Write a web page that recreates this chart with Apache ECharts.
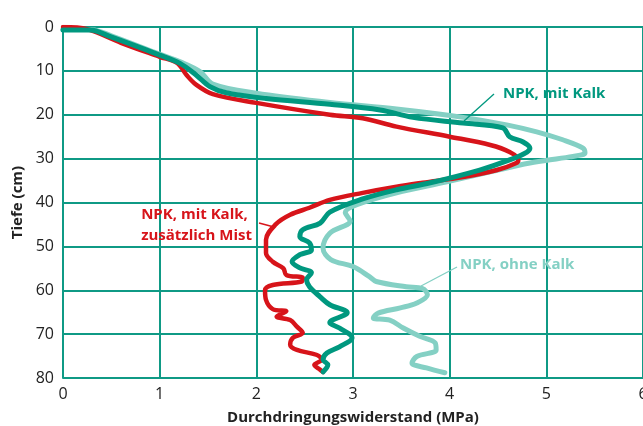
<!DOCTYPE html>
<html>
<head>
<meta charset="utf-8">
<script src="https://cdn.jsdelivr.net/npm/echarts@6/dist/echarts.min.js"></script>
<style>
html,body{margin:0;padding:0;background:#fff;}
#chart{width:643px;height:426px;}
</style>
</head>
<body>
<div id="chart"></div>
<script>
// x ticks (MPa) and depth ticks (cm)
const xTicks = [0, 1, 2, 3, 4, 5, 6];
const depthTicks = [0, 10, 20, 30, 40, 50, 60, 70, 80];

// [Durchdringungswiderstand (MPa), Tiefe (cm)]
const npkOhneKalk = [
  [0,0.5],[0.3,0.6],[0.5,2],[1.0,6.2],[1.22,8],[1.42,10.2],[1.55,13],[2.0,15.1],[2.76,17.2],
  [3.45,18.7],[4.14,20.6],[4.59,22.3],[4.9,23.9],[5.17,25.7],[5.38,27.6],[5.4,28.7],[5.24,29.6],
  [4.83,31],[4.42,33],[3.97,35.3],[3.45,37.8],[3.04,40.5],[2.92,42.3],[2.97,44.2],[2.76,47],
  [2.69,50.4],[2.77,53],[3.0,54.6],[3.17,56.9],[3.24,58],[3.55,59.2],[3.72,59.6],[3.77,61],
  [3.66,62.9],[3.49,64],[3.26,65.2],[3.21,66.3],[3.38,66.8],[3.52,68.6],[3.69,70.5],[3.85,72],
  [3.86,73.6],[3.66,75.1],[3.61,76.6],[3.76,77.7],[3.95,78.8]
];
const npkMitKalk = [
  [0,0.7],[0.28,0.7],[0.49,2.2],[1.0,6.4],[1.21,8.3],[1.38,11],[1.52,13.6],[1.69,15],[2.1,16.3],
  [2.76,17.6],[3.28,18.9],[3.62,20.6],[4.14,21.9],[4.55,23],[4.62,25],[4.76,26.2],[4.83,27.6],
  [4.8,28.5],[4.62,30.3],[4.31,32.6],[3.8,35.5],[3.45,37.1],[3.1,39.2],[2.76,42.2],[2.66,44.7],
  [2.48,46.2],[2.45,47.8],[2.55,49.2],[2.57,50.8],[2.45,51.9],[2.37,53.5],[2.45,54.9],[2.57,56],
  [2.52,57.6],[2.55,59.2],[2.66,61.5],[2.76,63.3],[2.94,65.1],[2.76,67.4],[2.86,68.6],[2.99,70.8],
  [2.86,72.9],[2.73,74.3],[2.69,75.8],[2.74,77],[2.69,78.6]
];
const npkMitKalkMist = [
  [0,0],[0.25,0.5],[0.6,3.6],[1.0,6.8],[1.18,8.2],[1.28,11],[1.38,13.2],[1.55,15.3],[2.0,17.3],
  [2.76,20],[3.1,20.8],[3.45,22.7],[4.0,25],[4.42,26.9],[4.62,28.5],[4.71,30.3],[4.69,31],
  [4.49,32.6],[4.14,34.2],[3.72,35.5],[3.45,36.4],[3.1,37.8],[2.76,39.4],[2.55,41.2],[2.35,42.8],
  [2.2,45],[2.1,48.5],[2.1,51.5],[2.17,53.5],[2.28,55],[2.31,56.5],[2.48,57.2],[2.47,58],
  [2.17,58.8],[2.09,60],[2.1,62.2],[2.17,64.3],[2.31,64.8],[2.21,66],[2.35,66.8],[2.42,68.3],
  [2.48,69.7],[2.38,70.8],[2.35,72.4],[2.42,73.6],[2.62,74.7],[2.68,75.8],[2.6,77],[2.66,78.1],[2.69,78.6]
];

const FONT = "'Open Sans', 'Noto Sans', sans-serif";
const GRID = '#0f9a85';
const chart = echarts.init(document.getElementById('chart'), null, {renderer: 'canvas'});

chart.setOption({
  animation: false,
  backgroundColor: '#ffffff',
  grid: {left: 63, top: 27, right: 0, bottom: 48, containLabel: false, outerBoundsMode: 'none'},
  xAxis: {
    type: 'value', min: xTicks[0], max: xTicks[xTicks.length - 1], interval: 1,
    name: 'Durchdringungswiderstand (MPa)', nameLocation: 'middle', nameGap: 32,
    nameTextStyle: {fontFamily: FONT, fontSize: 15, fontWeight: 'bold', color: '#222'},
    axisLine: {show: true, lineStyle: {color: GRID, width: 2}},
    axisTick: {show: false},
    axisLabel: {fontFamily: FONT, fontSize: 16, color: '#222', margin: 8, showMaxLabel: true},
    splitLine: {show: true, lineStyle: {color: GRID, width: 2}}
  },
  yAxis: {
    type: 'value', inverse: true, min: depthTicks[0], max: depthTicks[depthTicks.length - 1], interval: 10,
    name: 'Tiefe (cm)', nameLocation: 'middle', nameGap: 34,
    nameTextStyle: {fontFamily: FONT, fontSize: 15, fontWeight: 'bold', color: '#222'},
    axisLine: {show: true, lineStyle: {color: GRID, width: 2}},
    axisTick: {show: false},
    axisLabel: {fontFamily: FONT, fontSize: 16, color: '#222', margin: 9},
    splitLine: {show: true, lineStyle: {color: GRID, width: 2}}
  },
  series: [
    {name: 'NPK, ohne Kalk', type: 'line', data: npkOhneKalk, symbol: 'none', smooth: 0.35,
     lineStyle: {color: '#84d0c4', width: 5, cap: 'round', join: 'round'}, z: 2},
    {name: 'NPK, mit Kalk, zusätzlich Mist', type: 'line', data: npkMitKalkMist, symbol: 'none', smooth: 0.35,
     lineStyle: {color: '#d7141a', width: 4.5, cap: 'round', join: 'round'}, z: 3},
    {name: 'NPK, mit Kalk', type: 'line', data: npkMitKalk, symbol: 'none', smooth: 0.35,
     lineStyle: {color: '#00987f', width: 5, cap: 'round', join: 'round'}, z: 4}
  ],
  graphic: [
    {type: 'line', shape: {x1: 494, y1: 94, x2: 464, y2: 121}, style: {stroke: '#00987f', lineWidth: 1.3}, z: 10},
    {type: 'text', left: 503, top: 86, style: {text: 'NPK, mit Kalk', fill: '#00987f', font: "bold 15px " + FONT}, z: 10},
    {type: 'line', shape: {x1: 259, y1: 223, x2: 274, y2: 227}, style: {stroke: '#d7141a', lineWidth: 1.3}, z: 10},
    {type: 'text', right: 643 - 252, top: 204, style: {text: 'NPK, mit Kalk,\nzusätzlich Mist', fill: '#d7141a', font: "bold 15px " + FONT, align: 'right', lineHeight: 21}, z: 10},
    {type: 'line', shape: {x1: 457, y1: 267, x2: 421, y2: 286}, style: {stroke: '#84d0c4', lineWidth: 1.3}, z: 10},
    {type: 'text', left: 460, top: 257, style: {text: 'NPK, ohne Kalk', fill: '#84d0c4', font: "bold 15px " + FONT}, z: 10}
  ]
});
</script>
</body>
</html>
